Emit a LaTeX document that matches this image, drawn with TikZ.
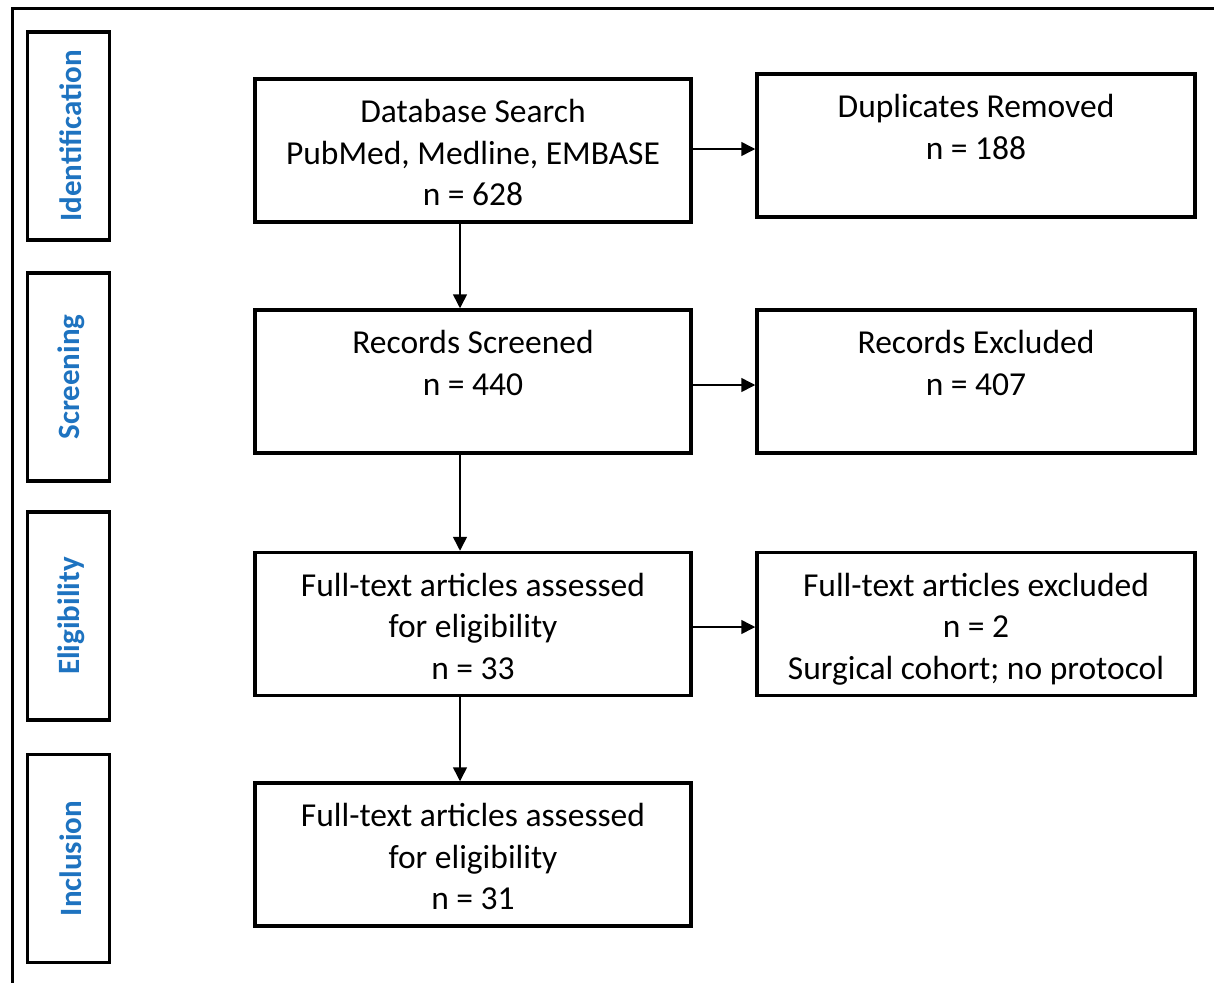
\documentclass[tikz,border=0pt]{standalone}
\usepackage{fontspec}
\setmainfont{Carlito}
\usetikzlibrary{arrows.meta}
\definecolor{stageblue}{RGB}{30,115,192}

\begin{document}
\begin{tikzpicture}[x=1pt, y=-1pt,
  frame/.style={line width=3pt},
  box/.style={draw, line width=3.5pt, inner sep=0pt, minimum width=436pt, minimum height=143pt},
  sidebox/.style={box, minimum width=438pt},
  stagebox/.style={draw, line width=3.5pt, inner sep=0pt, minimum width=82pt, minimum height=208pt},
  stagetxt/.style={rotate=90, text=stageblue, font=\fontsize{31}{37}\selectfont\bfseries, inner sep=0pt},
  txt/.style={align=center, inner sep=0pt, anchor=north, font=\fontsize{33.5}{41.5}\selectfont},
  arr/.style={line width=1.5pt, -{Triangle[length=14pt, width=14pt]}}
]
% canvas
\useasboundingbox (0,0) rectangle (1214,982);
\fill[white] (0,0) rectangle (1214,982);
\draw[frame] (12,990) -- (12,9) -- (1220,9);

% stage labels
\node[stagebox] (s1) at (68.5,136) {};
\node[stagetxt] (l1) at (71,136) {Identification};
\node[stagebox] (s2) at (68.5,377) {};
\node[stagetxt] (l2) at (71,377) {Screening};
\node[stagebox] (s3) at (68.5,616) {};
\node[stagetxt] (l3) at (71,616) {Eligibility};
\node[stagebox] (s4) at (68.5,858.5) {};
\node[stagetxt] (l4) at (71,858.5) {Inclusion};

% main column
\node[box] (b1) at (473,150.5) {};
\node[txt] (t1) at ([yshift=-22pt]b1.north) {Database Search\\PubMed, Medline, EMBASE\\n = 628};
\node[box] (b2) at (473,381.5) {};
\node[txt] (t2) at ([yshift=-22pt]b2.north) {Records Screened\\n = 440};
\node[box] (b3) at (473,624) {};
\node[txt] (t3) at ([yshift=-22pt]b3.north) {Full-text articles assessed\\for eligibility\\n = 33};
\node[box] (b4) at (473,854.5) {};
\node[txt] (t4) at ([yshift=-22pt]b4.north) {Full-text articles assessed\\for eligibility\\n = 31};

% side column
\node[sidebox] (r1) at (976,145.5) {};
\node[txt] (u1) at ([yshift=-22pt]r1.north) {Duplicates Removed\\n = 188};
\node[sidebox] (r2) at (976,381.5) {};
\node[txt] (u2) at ([yshift=-22pt]r2.north) {Records Excluded\\n = 407};
\node[sidebox] (r3) at (976,624) {};
\node[txt] (u3) at ([yshift=-22pt]r3.north) {Full-text articles excluded\\n = 2\\Surgical cohort; no protocol};

% flow down
\draw[arr] ([xshift=-13pt]b1.south) -- ([xshift=-13pt]b2.north);
\draw[arr] ([xshift=-13pt]b2.south) -- ([xshift=-13pt]b3.north);
\draw[arr] ([xshift=-13pt]b3.south) -- ([xshift=-13pt]b4.north);

% exclusions to the side
\draw[arr] ([yshift=1.5pt]b1.east) -- ([yshift=1.5pt]b1.east -| r1.west);
\draw[arr] ([yshift=-3.5pt]b2.east) -- ([yshift=-3.5pt]b2.east -| r2.west);
\draw[arr] ([yshift=-3pt]b3.east) -- ([yshift=-3pt]b3.east -| r3.west);
\end{tikzpicture}
\end{document}
